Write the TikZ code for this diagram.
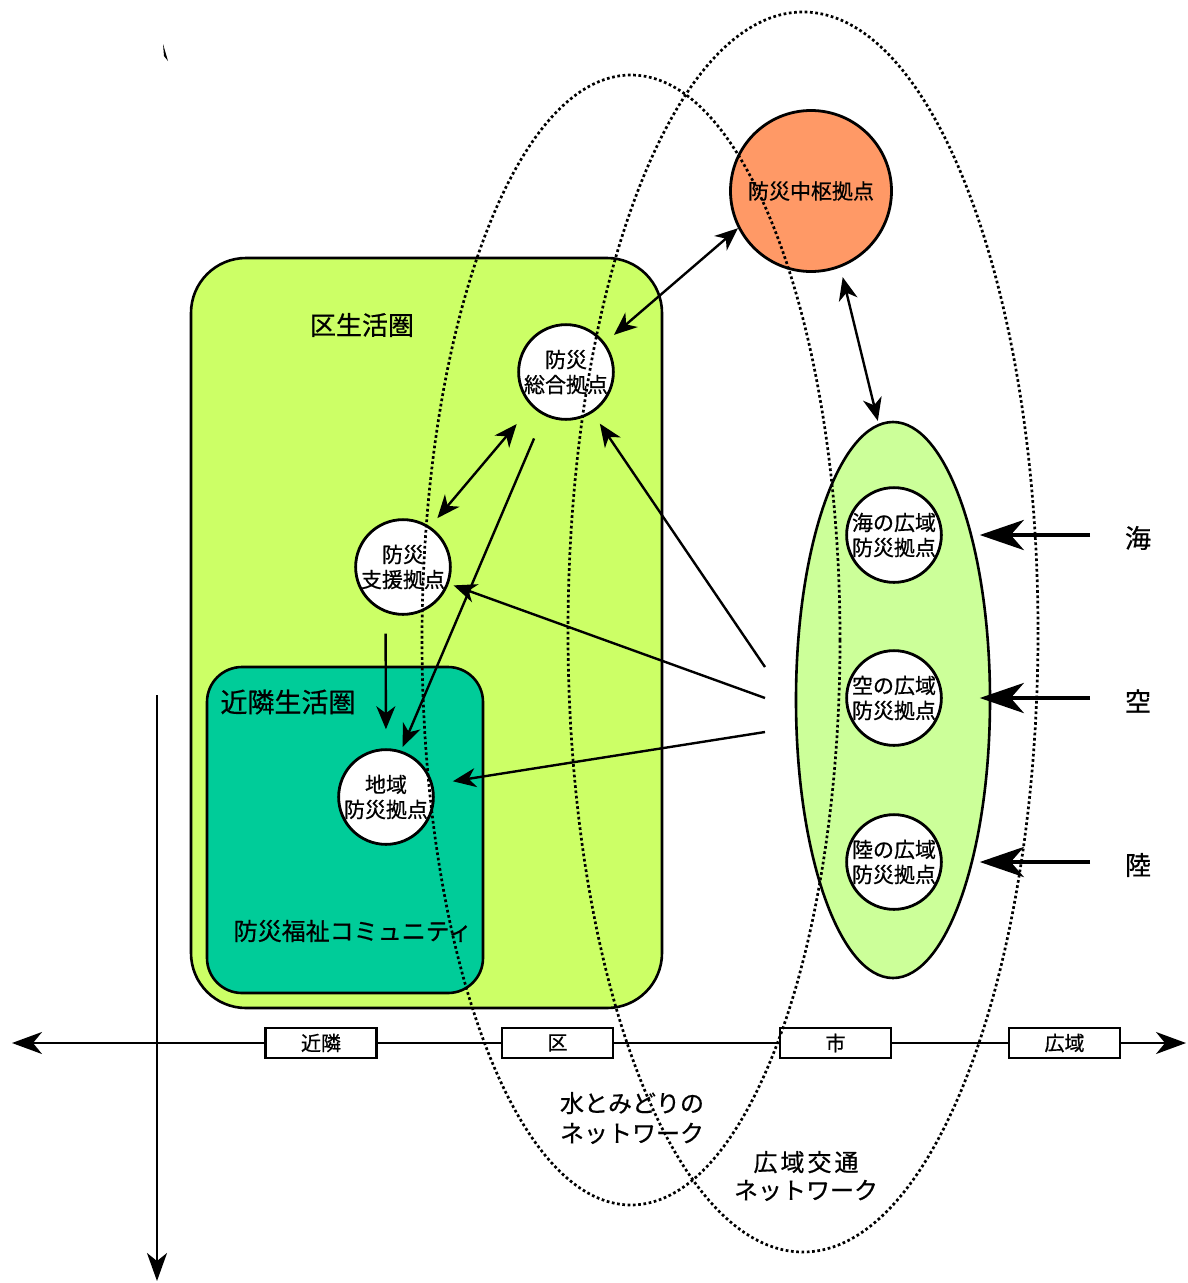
\documentclass[tikz,border=0pt]{standalone}
\usepackage{fontspec}
\newfontfamily\jp[FakeBold=0.6]{Noto Sans CJK JP}
\usetikzlibrary{arrows.meta,shapes.geometric}
\definecolor{kucol}{HTML}{CCFF66}
\definecolor{kincol}{HTML}{00CC99}
\definecolor{chucol}{HTML}{FF9966}
\definecolor{widecol}{HTML}{CCFF99}
\begin{document}
\begin{tikzpicture}[x=1pt,y=-1pt,font=\jp,
  hub/.style={circle,draw,line width=2.8pt,fill=white,minimum size=94pt,inner sep=0pt,align=center,font=\jp\fontsize{21}{25}\selectfont},
  zone/.style={draw,line width=2.6pt,inner sep=0pt},
  lbl/.style={inner sep=0pt,align=center,font=\jp\fontsize{24}{30}\selectfont},
  tickbox/.style={draw,line width=2.6pt,fill=white,minimum width=111pt,minimum height=30pt,inner sep=0pt,font=\jp\fontsize{20}{22}\selectfont},
  arr/.style={line width=2.4pt,-{Stealth[length=23pt,width=19pt,inset=7pt]}},
  darr/.style={line width=2.4pt,{Stealth[length=23pt,width=19pt,inset=7pt]}-{Stealth[length=23pt,width=19pt,inset=7pt]}},
  bigarr/.style={line width=4.8pt,-{Stealth[length=44pt,width=30pt,inset=13pt]}},
  axisline/.style={line width=2.2pt},
  dots/.style={line width=2.7pt,dash pattern=on 2.7pt off 2.6pt}]
\useasboundingbox (0,0) rectangle (1188,1283);
\fill[white] (0,0) rectangle (1188,1283);

% stray mark
\fill (163,44) .. controls (166,52) .. (168,61) -- (164,56) -- cycle;

% zones
\node[zone,fill=kucol,rounded corners=55pt,minimum width=471pt,minimum height=750pt] (ku) at (426.5,633) {};
\node[zone,fill=kincol,rounded corners=35pt,minimum width=276pt,minimum height=326pt] (kin) at (345,830) {};
\node[lbl,font=\jp\fontsize{26}{30}\selectfont] (kuL) at (362,325) {区生活圏};
\node[lbl,font=\jp\fontsize{27}{30}\selectfont] (kinL) at (288,702) {近隣生活圏};
\node[lbl,font=\jp\fontsize{24}{30}\selectfont] (comL) at (353,931) {防災福祉コミュニティ};

% wide-area ellipse
\node[ellipse,draw,line width=2.6pt,fill=widecol,minimum width=194pt,minimum height=556pt,inner sep=0pt] (wide) at (893,700) {};

% hubs
\node[circle,draw,line width=2.8pt,fill=chucol,minimum size=161pt,inner sep=0pt,font=\jp\fontsize{21}{25}\selectfont] (chusu) at (811,191) {防災中枢拠点};
\node[hub] (sogo) at (566,372) {防災\\総合拠点};
\node[hub] (shien) at (403,567) {防災\\支援拠点};
\node[hub] (chiiki) at (386,797) {地域\\防災拠点};
\node[hub] (sea) at (894,535) {海の広域\\防災拠点};
\node[hub] (air) at (894,698) {空の広域\\防災拠点};
\node[hub] (land) at (894,862) {陸の広域\\防災拠点};

% outside labels
\node[lbl,font=\jp\fontsize{26}{30}\selectfont] (seaL) at (1138,538) {海};
\node[lbl,font=\jp\fontsize{26}{30}\selectfont] (airL) at (1138,701) {空};
\node[lbl,font=\jp\fontsize{26}{30}\selectfont] (landL) at (1138,865) {陸};
\coordinate (seaT) at (1090,535);
\coordinate (airT) at (1090,698);
\coordinate (landT) at (1090,862);
\draw[bigarr,shorten >=37pt] (seaT) -- (sea.east);
\draw[bigarr,shorten >=37pt] (airT) -- (air.east);
\draw[bigarr,shorten >=37pt] (landT) -- (land.east);

% connectors
\draw[darr,shorten <=12pt] (sogo.37) -- (chusu.207);
\draw[darr,shorten <=10pt,shorten >=3pt] (chusu.291) -- (wide.93);
\draw[darr,shorten <=23pt,shorten >=11pt] (sogo.225) -- (shien.56);
\draw[arr,shorten <=25pt,shorten >=4pt] (sogo.243) -- (chiiki.72);
\draw[arr,shorten <=21pt,shorten >=19pt] (shien.249) -- (chiiki.90);
\coordinate (s1) at (765,667);
\coordinate (s2) at (765,698);
\coordinate (s3) at (765,732);
\draw[arr,shorten >=13pt] (s1) -- (sogo.303);
\draw[arr,shorten >=5pt] (s2) -- (shien.340);
\draw[arr,shorten >=20pt] (s3) -- (chiiki.15);

% axes
\coordinate (axL) at (12,1043);
\coordinate (axR) at (1186,1043);
\coordinate (axT) at (157,695);
\coordinate (axB) at (157,1281);
\draw[axisline,{Stealth[length=30pt,width=22pt,inset=9pt]}-{Stealth[length=30pt,width=22pt,inset=9pt]}] (axL) -- (axR);
\draw[axisline,-{Stealth[length=28pt,width=20pt,inset=8pt]}] (axT) -- (axB);
\node[tickbox] (t1) at (321,1043) {近隣};
\node[tickbox] (t2) at (557.5,1043) {区};
\node[tickbox] (t3) at (835.5,1043) {市};
\node[tickbox] (t4) at (1064.5,1043) {広域};

% networks
\draw[dots] (631,640) ellipse [x radius=209, y radius=565];
\draw[dots] (803,632) ellipse [x radius=235, y radius=620];
\node[lbl,font=\jp\fontsize{24}{30}\selectfont] (netA) at (632,1118) {水とみどりの\\ネットワーク};
\node[lbl,font=\jp\fontsize{24}{28}\selectfont] (netB) at (806,1176) {広\hspace{3pt}域\hspace{3pt}交\hspace{3pt}通\\ネットワーク};
\end{tikzpicture}
\end{document}
